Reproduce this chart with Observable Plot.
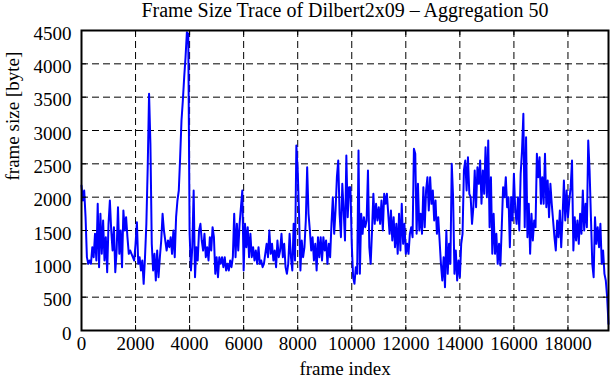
<!DOCTYPE html>
<html>
<head>
<meta charset="utf-8">
<script src="https://cdn.jsdelivr.net/npm/d3@7"></script>
<script src="https://cdn.jsdelivr.net/npm/@observablehq/plot@0.6"></script>
<style>
  html, body { margin: 0; padding: 0; background: #ffffff; }
  #chart svg { display: block; }
</style>
</head>
<body>
<div id="chart"></div>
<script>
const titleText = "Frame Size Trace of Dilbert2x09 \u2013 Aggregation 50";
const xLabel = "frame index";
const yLabel = "frame size [byte]";
const xTicks = [0, 2000, 4000, 6000, 8000, 10000, 12000, 14000, 16000, 18000];
const yTicks = [0, 500, 1000, 1500, 2000, 2500, 3000, 3500, 4000, 4500];
const aggregation = 50;

// aggregated frame sizes (bytes), one value per 50 frames
const frameSizes = [
  // 0 - 950
  2175, 1950, 2100, 1700, 1100, 1000, 1050, 1000, 1250, 1100, 1450, 1050, 1900, 950, 1750, 1150, 1650, 1050, 1400, 875,
  // 1000 - 1950
  1600, 1950, 1500, 1200, 1550, 875, 1200, 1850, 1150, 1500, 950, 1800, 1500, 1700, 1400, 1150, 1200, 1150, 1100, 1050,
  // 2000 - 2950
  1300, 1625, 1000, 1100, 900, 1050, 700, 1100, 1600, 2450, 3550, 2800, 1300, 900, 1150, 750, 1200, 800, 1100, 1350,
  // 3000 - 3950
  1750, 1500, 1350, 1200, 1350, 1250, 1400, 1150, 1500, 1100, 1700, 1950, 2100, 2600, 3150, 3450, 3800, 4100, 4475, 4450,
  // 4000 - 4950
  1450, 900, 1250, 2100, 800, 1250, 1050, 1500, 1600, 1350, 1200, 1450, 1100, 1250, 1050, 1400, 1200, 1550, 1400, 850,
  // 5000 - 5950
  1100, 800, 1100, 1000, 1100, 950, 1100, 900, 1000, 900, 1050, 950, 1100, 1750, 1100, 1600, 1200, 1600, 1850, 2100,
  // 6000 - 6950
  900, 1600, 1250, 1550, 1100, 1450, 1100, 1250, 1050, 1200, 1000, 1250, 1000, 1050, 950, 1000, 1150, 1300, 1100, 1500,
  // 7000 - 7950
  1150, 1300, 1050, 1200, 950, 1350, 1100, 1200, 1450, 1100, 1300, 950, 850, 1000, 1450, 1100, 900, 1600, 1050, 2775,
  // 8000 - 8950
  2400, 1750, 900, 1350, 1100, 1250, 1650, 2450, 1750, 1500, 1200, 1400, 1050, 1300, 900, 1400, 1100, 1400, 1050, 1400,
  // 9000 - 9950
  1200, 1350, 1000, 1300, 1100, 1600, 2000, 1450, 1800, 2300, 2550, 1750, 1400, 2200, 1800, 1350, 2625, 1700, 2150, 2150,
  // 10000 - 10950
  1300, 800, 700, 950, 850, 2700, 850, 1750, 1450, 1700, 1550, 1650, 2400, 1250, 1000, 1500, 2050, 1600, 1900, 1650,
  // 11000 - 11950
  1850, 1600, 1950, 1500, 2050, 1900, 2050, 1750, 1450, 1800, 1350, 1700, 1250, 1600, 1150, 1750, 1200, 1900, 1300, 1600,
  // 12000 - 12950
  1150, 1300, 1150, 1450, 1550, 1400, 2725, 2650, 1450, 2200, 1500, 1750, 1450, 2150, 1550, 2100, 2300, 1800, 2300, 1900,
  // 13000 - 13950
  2100, 1650, 1950, 1450, 1700, 1350, 1000, 750, 1100, 650, 1500, 850, 1300, 1000, 2500, 2000, 850, 1200, 750, 1050,
  // 14000 - 14950
  800, 1300, 1450, 2400, 2550, 2100, 2600, 2050, 2000, 1600, 1850, 2400, 1850, 2450, 2200, 2550, 1900, 2400, 2050, 2750,
  // 15000 - 15950
  2000, 2850, 1550, 2300, 1150, 1750, 1150, 1450, 1000, 1300, 975, 1550, 2150, 2000, 2300, 1850, 2000, 1250, 2000, 1650,
  // 16000 - 16950
  2350, 1800, 1600, 2000, 1500, 2350, 2700, 3250, 1550, 2900, 1400, 1900, 1150, 1750, 1350, 1650, 1550, 2650, 2300, 2600,
  // 17000 - 17950
  1900, 2300, 1900, 2650, 1850, 2250, 1700, 2200, 1900, 1650, 1400, 1200, 1650, 1400, 1800, 1250, 1700, 2250, 1650, 2100,
  // 18000 - 18950
  1700, 1950, 2150, 2550, 1200, 1700, 1350, 1650, 1300, 1750, 1450, 2100, 1500, 1900, 1550, 2850, 2400, 1700, 1000, 800,
  // 19000 - 19500
  1700, 1300, 1550, 1250, 1600, 1000, 1200, 850, 750, 500, 100
];

const frameIndex = frameSizes.map((_, i) => i * aggregation);
const trace = frameSizes.map((v, i) => ({frame: frameIndex[i], size: v}));

const xGrid = xTicks.slice(1);
const yGrid = yTicks.slice(1, -1);

const W = 611, H = 380;
const mL = 81, mR = 3, mT = 30, mB = 50;
const plotW = W - mL - mR, plotH = H - mT - mB;
const tickLen = 5;

const chart = Plot.plot({
  width: W,
  height: H,
  marginLeft: mL,
  marginRight: mR,
  marginTop: mT,
  marginBottom: mB,
  style: {fontFamily: "'Liberation Serif', 'DejaVu Serif', serif", fontSize: "19px", background: "#ffffff", color: "#000000"},
  x: {domain: [0, 19500], label: null},
  y: {domain: [0, 4500], label: null},
  marks: [
    Plot.ruleY(yGrid, {y: d => d, stroke: "#000000", strokeWidth: 1, strokeDasharray: "7,4"}),
    Plot.ruleX(xGrid, {x: d => d, stroke: "#000000", strokeWidth: 1, strokeDasharray: "7,4"}),
    Plot.lineY(trace, {x: "frame", y: "size", stroke: "#0000ff", strokeWidth: 2}),
    Plot.tickX(xTicks, {x: d => d, insetTop: plotH - tickLen, stroke: "#000000", strokeWidth: 1}),
    Plot.tickX(xTicks, {x: d => d, insetBottom: plotH - tickLen, stroke: "#000000", strokeWidth: 1}),
    Plot.tickY(yTicks, {y: d => d, insetRight: plotW - tickLen, stroke: "#000000", strokeWidth: 1}),
    Plot.tickY(yTicks, {y: d => d, insetLeft: plotW - tickLen, stroke: "#000000", strokeWidth: 1}),
    Plot.frame({stroke: "#000000", strokeWidth: 2}),
    Plot.axisX({ticks: xTicks, tickSize: 0, tickPadding: 6, tickFormat: d => String(d), label: null, fontSize: 19}),
    Plot.axisY({ticks: yTicks, tickSize: 0, tickPadding: 10, tickFormat: d => String(d), label: null, fontSize: 19, dy: 3}),
    Plot.text([titleText], {text: d => d, frameAnchor: "top", lineAnchor: "bottom", dy: -14, fontSize: 20}),
    Plot.text([xLabel], {text: d => d, frameAnchor: "bottom", lineAnchor: "bottom", dy: 44, fontSize: 19}),
    Plot.text([yLabel], {text: d => d, frameAnchor: "left", rotate: -90, dx: -69, fontSize: 19})
  ]
});

document.getElementById("chart").appendChild(chart);
</script>
</body>
</html>
